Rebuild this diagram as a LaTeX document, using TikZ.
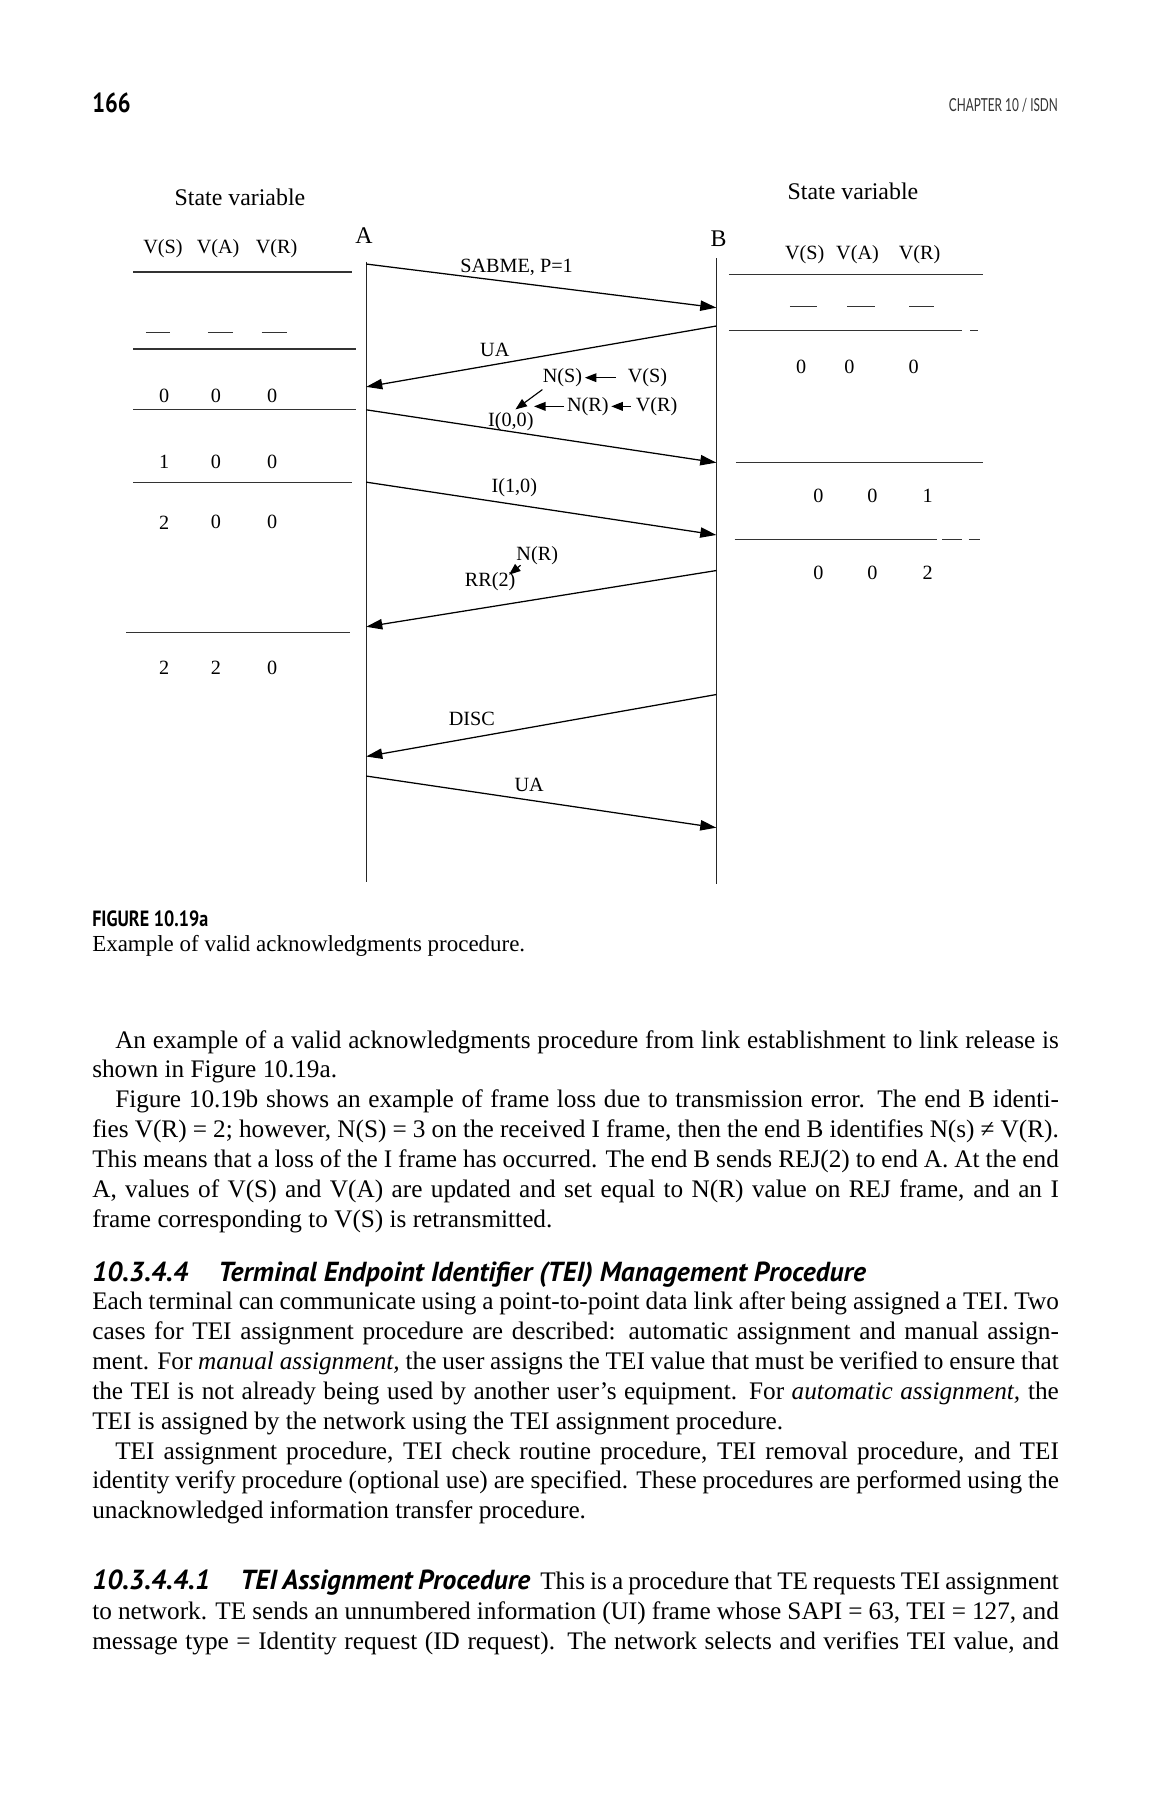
\documentclass[tikz,border=0pt]{standalone}
\usepackage{fontspec}
\setmainfont{Liberation Serif}
\newfontfamily\headsans{PT Sans}
\newfontfamily\capsans[FakeStretch=0.82]{PT Sans}
\newfontfamily\runsans[FakeStretch=0.66]{Lato}
\usetikzlibrary{arrows.meta,positioning}
\tikzset{
  lifeline/.style={line width=0.6pt, black!85},
  msg/.style={-{Triangle[length=7pt,width=4.5pt]}, line width=0.55pt},
  pointer/.style={-{Triangle[length=5pt,width=3.8pt]}, line width=0.5pt},
  rule/.style={line width=0.5pt, black!80},
  lbl/.style={font=\fontsize{8.8}{10}\selectfont, inner sep=1pt},
  val/.style={font=\fontsize{8.8}{10}\selectfont, inner sep=0pt},
  svtitle/.style={font=\fontsize{10.4}{12}\selectfont, inner sep=0pt},
  body/.style={text width=421pt, align=justify, inner sep=0pt, anchor=base west, font=\fontsize{11}{13}\selectfont},
  head/.style={inner sep=0pt, anchor=base west, font=\headsans\bfseries\itshape\fontsize{12}{13}\selectfont}
}

\begin{document}
\begin{tikzpicture}[x=0.5pt, y=-0.5pt]
  \path[use as bounding box, fill=white] (0,0) rectangle (1003,1568);

  % running head
  \node[anchor=base west, inner sep=0pt, font=\capsans\bfseries\fontsize{12}{14}\selectfont] (pagenum) at (80,98) {166};
  \node[anchor=base east, inner sep=0pt, font=\runsans\fontsize{7.8}{10}\selectfont, black!80] (runhead) at (922,97) {CHAPTER 10 / ISDN};

  % state variable tables
  \node[svtitle] (svleft) at (209,172) {State variable};
  \node[svtitle] (svright) at (743,167) {State variable};
  \foreach \x/\t in {142/V(S),190/V(A),241/V(R)} \node[val] (lh\x) at (\x,217) {\t};
  \foreach \x/\t in {701/V(S),747/V(A),801/V(R)} \node[val] (rh\x) at (\x,222) {\t};

  \foreach \y/\xa/\xb in {237/116/307, 304/116/310, 357/116/310, 420/116/307, 551/110/305} \draw[rule] (\xa,\y) -- (\xb,\y);
  \foreach \y/\xa/\xb in {239/635/856, 288/635/838, 403/641/856, 470/640/816} \draw[rule] (\xa,\y) -- (\xb,\y);
  \draw[rule] (845,288) -- (852,288);
  \draw[rule] (821,470) -- (838,470) (844,470) -- (854,470);

  \foreach \xa/\xb in {127/148, 181/203, 228/250} \draw[rule] (\xa,290) -- (\xb,290);
  \foreach \xa/\xb in {688/712, 738/762, 792/814} \draw[rule] (\xa,267) -- (\xb,267);

  \foreach \y/\a/\b/\c in {345/0/0/0, 402/1/0/0, 455/2/0/0, 582/2/2/0} {
    \node[val] (la\y) at (143,\y) {\a};
    \node[val] (lb\y) at (188,\y) {\b};
    \node[val] (lc\y) at (237,\y) {\c};
  }
  \foreach \y/\a/\b/\c/\xa/\xb/\xc in {320/0/0/0/698/740/796, 432/0/0/1/713/760/808, 499/0/0/2/713/760/808} {
    \node[val] (ra\y) at (\xa,\y) {\a};
    \node[val] (rb\y) at (\xb,\y) {\b};
    \node[val] (rc\y) at (\xc,\y) {\c};
  }

  % the two ends
  \node[svtitle] (A) at (317,205) {A};
  \node[svtitle] (B) at (626,208) {B};
  \coordinate (Atop) at (319,228);
  \coordinate (Abot) at (319,768);
  \coordinate (Btop) at (624,225);
  \coordinate (Bbot) at (624,770);
  \draw[lifeline] (Atop) -- (Abot);
  \draw[lifeline] (Btop) -- (Bbot);

  % frames
  \foreach \n/\ya/\yb in {1/230/268, 3/357/403, 4/420/466, 7/676/721} {
    \coordinate (a\n) at (319,\ya);
    \coordinate (b\n) at (624,\yb);
    \draw[msg] (a\n) -- (b\n);
  }
  \foreach \n/\ya/\yb in {2/337/284, 5/546/497, 6/659/605} {
    \coordinate (a\n) at (319,\ya);
    \coordinate (b\n) at (624,\yb);
    \draw[msg] (b\n) -- (a\n);
  }

  \node[lbl] (sabme) at (450,233) {SABME, P=1};
  \node[lbl] (ua1) at (431,305) {UA};
  \node[lbl] (i00) at (445,367) {I(0,0)};
  \node[lbl] (ns) at (490,329) {N(S)};
  \node[lbl] (vs) at (564,329) {V(S)};
  \node[lbl] (nr) at (512,354) {N(R)};
  \node[lbl] (vr) at (572,354) {V(R)};
  \draw[pointer, shorten <=4pt] (vs) -- (ns);
  \draw[pointer, shorten <=1pt] (vr) -- (nr);
  \draw[pointer] (nr.west) -- ([xshift=-1pt]nr.west -| i00.east);
  \draw[pointer] ([xshift=1pt]ns.south west) -- ([xshift=2pt]i00.north);
  \node[lbl] (i10) at (448,425) {I(1,0)};
  \node[lbl] (rr) at (427,507) {RR(2)};
  \node[lbl] (nr2) at (468,484) {N(R)};
  \draw[pointer] ([xshift=3pt,yshift=1pt]nr2.south west) -- ([xshift=-4pt,yshift=-2pt]rr.north east);
  \node[lbl] (disc) at (411,626) {DISC};
  \node[lbl] (ua2) at (461,684) {UA};

  % caption
  \node[anchor=base west, inner sep=0pt, font=\capsans\bfseries\fontsize{9.6}{12}\selectfont] (figno) at (80,807) {FIGURE 10.19a};
  \node[anchor=base west, inner sep=0pt, font=\fontsize{10}{12}\selectfont] (figcap) at (80,829) {Example of valid acknowledgments procedure.};

  % running text
  \node[body] (para1) at (80,913) {\tolerance=9999
    \hspace*{10pt}An example of a valid acknowledgments procedure from link establishment to link release is\linebreak
    shown in Figure 10.19a.\par
    \hspace*{10pt}Figure 10.19b shows an example of frame loss due to transmission error. The end B identi-\linebreak
    fies V(R) = 2; however, N(S) = 3 on the received I frame, then the end B identifies N(s) ≠ V(R).\linebreak
    This means that a loss of the I frame has occurred. The end B sends REJ(2) to end A. At the end\linebreak
    A, values of V(S) and V(A) are updated and set equal to N(R) value on REJ frame, and an I\linebreak
    frame corresponding to V(S) is retransmitted.};

  \node[head] (sec) at (80,1116) {10.3.4.4\hspace{1.1em}Terminal Endpoint Identifier (TEI) Management Procedure};

  \node[body] (para2) at (80,1141) {\tolerance=9999
    Each terminal can communicate using a point-to-point data link after being assigned a TEI. Two\linebreak
    cases for TEI assignment procedure are described: automatic assignment and manual assign-\linebreak
    ment. For \textit{manual assignment,} the user assigns the TEI value that must be verified to ensure that\linebreak
    the TEI is not already being used by another user’s equipment. For \textit{automatic assignment,} the\linebreak
    TEI is assigned by the network using the TEI assignment procedure.\par
    \hspace*{10pt}TEI assignment procedure, TEI check routine procedure, TEI removal procedure, and TEI\linebreak
    identity verify procedure (optional use) are specified. These procedures are performed using the\linebreak
    unacknowledged information transfer procedure.};

  \node[body] (para3) at (80,1385) {\tolerance=9999\parfillskip=0pt
    {\headsans\bfseries\itshape\fontsize{12}{13}\selectfont 10.3.4.4.1\hspace{1.1em}TEI Assignment Procedure}\hspace{0.4em}This is a procedure that TE requests TEI assignment\linebreak
    to network. TE sends an unnumbered information (UI) frame whose SAPI = 63, TEI = 127, and\linebreak
    message type = Identity request (ID request). The network selects and verifies TEI value, and\par};
\end{tikzpicture}
\end{document}
